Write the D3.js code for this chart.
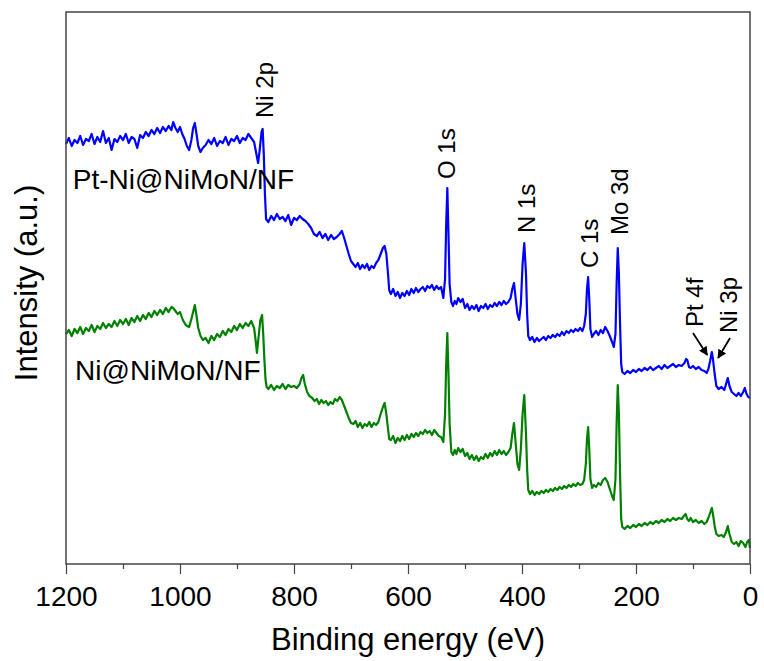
<!DOCTYPE html>
<html><head><meta charset="utf-8">
<script src="https://cdn.jsdelivr.net/npm/d3@7"></script>
<style>body{margin:0;background:#fff}svg{display:block}text{font-family:Arial,"Liberation Sans",sans-serif}</style>
</head><body><svg id="c" width="764" height="661"></svg>
<script>
// Binding energy (eV) and intensity (a.u.) for Pt-Ni@NiMoN/NF (blue)
const blueBE = [1200,1195,1190,1185,1180,1175,1170,1165,1160,1155,1150,1145,1140,1135,1130,1125,1120,1115,1110,1105,1100,1095,1090,1085,1080,1075,1070,1065,1060,1055,1050,1045,1040,1035,1030,1025,1020,1015,1012,1008,1004,1000,996,992,988,984,980,977,974,971,968,964,960,955,950,945,940,935,930,925,920,915,910,905,900,895,890,885,880,875,870,866,863,860,857,855,853,851,849,845,840,835,830,825,820,815,810,805,800,795,790,785,780,775,770,765,760,755,750,745,740,735,730,725,720,716,712,708,704,700,696,692,688,684,680,676,672,668,664,660,656,652,648,644,641,638,635,633,630,626,622,618,614,610,606,602,598,594,590,586,582,578,574,570,566,562,558,554,550,546,542,538,535,533,531,529,527,524,521,518,515,512,508,504,500,496,492,488,484,480,476,472,468,464,460,456,452,448,444,440,436,432,428,424,420,417,414,411,408,405,402,399,396,393,391,389,386,382,378,374,370,366,362,358,354,350,346,342,338,334,330,326,322,318,314,310,306,302,298,294,291,288,286,284,282,280,277,274,270,266,262,258,254,250,246,242,239,236,234,232,230,228,226,224,220,215,210,205,200,195,190,185,180,175,170,165,160,155,150,145,140,135,130,125,120,115,112,110,107,104,100,95,90,85,80,76,73,70,67,65,62,59,55,50,45,42,39,36,32,28,24,20,16,12,9,6,3,0];
const blueInt = [420,426,418,424,421,428,419,425,423,430,420,427,422,433,421,426,414,425,422,428,424,430,421,427,425,416,429,426,432,428,434,430,436,431,437,433,438,434,442,436,432,437,430,425,418,414,424,436,441,430,418,412,416,419,424,420,426,418,423,421,427,419,425,423,428,421,426,424,430,426,422,410,401,415,432,435,410,370,345,342,348,344,350,345,347,343,349,339,346,344,348,345,343,340,336,330,328,332,326,330,324,329,325,327,330,333,326,318,310,303,300,297,301,295,299,296,300,294,298,296,301,304,310,316,318,310,290,274,270,275,268,272,266,271,268,273,269,275,271,276,272,275,277,273,278,276,279,274,278,275,277,266,285,340,376,330,280,262,258,263,260,266,262,265,256,260,254,258,255,259,253,258,256,260,255,259,257,261,258,262,259,263,260,262,266,275,281,265,250,244,260,300,321,290,250,228,224,227,222,226,223,225,227,224,228,226,229,227,230,228,232,229,233,231,234,232,235,233,236,233,238,250,275,287,265,235,227,230,233,229,234,231,237,233,228,222,217,230,280,316,290,240,200,192,190,193,191,194,192,195,193,196,194,197,194,196,198,195,199,196,198,200,197,199,198,201,205,204,197,196,198,195,197,194,193,191,195,203,212,205,190,178,175,177,174,180,186,178,172,170,168,171,168,172,176,170,167,166];

// Ni@NiMoN/NF (green)
const greenBE = [1200,1195,1190,1185,1180,1175,1170,1165,1160,1155,1150,1145,1140,1135,1130,1125,1120,1115,1110,1105,1100,1095,1090,1085,1080,1075,1070,1065,1060,1055,1050,1045,1040,1035,1030,1025,1020,1015,1012,1004,1000,995,990,984,980,977,974,971,968,964,960,955,950,945,940,935,930,925,920,915,910,905,900,895,890,885,880,875,870,867,865,862,859,856,854,852,850,848,845,840,835,830,825,820,815,810,805,800,795,790,787,784,781,777,773,768,764,760,756,752,748,744,740,736,732,728,724,720,716,712,708,704,700,696,692,688,684,680,676,672,668,664,660,656,652,648,644,641,638,635,633,630,626,622,618,614,610,606,602,598,594,590,586,582,578,574,570,566,562,558,554,550,546,542,538,535,533,531,529,527,524,521,518,515,512,508,504,500,496,492,488,484,480,476,472,468,464,460,456,452,448,444,440,436,432,428,424,420,417,414,411,408,405,402,399,396,393,391,389,386,382,378,374,370,366,362,358,354,350,346,342,338,334,330,326,322,318,314,310,306,302,298,294,291,288,286,284,282,280,277,274,270,266,262,258,254,250,246,242,239,236,234,232,230,228,226,224,220,215,210,205,200,195,190,185,180,175,170,165,160,155,150,145,140,135,130,125,120,116,113,110,107,104,100,95,90,85,80,76,73,70,67,65,62,59,55,50,46,42,39,36,32,28,24,20,16,12,8,5,2,0];
const greenInt = [230,234,228,235,231,237,230,236,233,239,232,238,235,241,236,240,237,243,238,244,240,245,239,246,242,248,243,249,245,251,247,253,249,254,250,256,252,257,256,250,252,244,239,237,245,252,259,248,236,228,224,226,221,228,224,230,227,233,229,235,232,238,234,240,236,241,238,243,236,222,211,228,244,249,230,205,185,177,175,179,174,178,176,180,175,179,177,178,176,180,186,189,180,172,168,166,163,165,160,164,161,163,159,162,160,165,163,167,164,158,152,146,141,140,143,137,141,136,140,138,142,137,141,139,142,150,157,161,150,135,125,124,128,121,126,123,128,124,129,125,130,127,131,128,132,130,134,131,133,129,134,131,128,127,122,150,200,231,190,140,112,109,114,110,116,112,115,108,111,105,109,104,108,103,107,105,110,106,111,108,113,109,114,110,113,109,112,116,130,141,120,100,94,115,150,169,130,95,74,70,73,69,72,70,73,71,74,72,75,73,76,74,77,75,78,76,79,77,80,78,81,79,80,84,100,125,137,115,85,76,79,77,81,79,84,86,82,75,68,64,85,140,179,150,90,45,37,35,38,36,39,37,40,38,41,39,42,40,43,41,44,42,45,43,46,44,46,45,48,50,45,43,46,42,44,41,43,40,42,46,51,56,50,38,30,28,29,27,32,38,30,22,20,22,18,23,21,17,22,24,16];

const xTicks = [1200,1000,800,600,400,200,0];
const xMinorTicks = [1100,900,700,500,300,100];
const sampleNames = ["Pt-Ni@NiMoN/NF","Ni@NiMoN/NF"];
const sampleLabelBE = [1188,1184];
const sampleLabelInt = [375,184];
const peakNames = ["Ni 2p","O 1s","N 1s","C 1s","Mo 3d","Pt 4f","Ni 3p"];
const peakLabelBE = [837,518,377,267,214,82,23];
const peakLabelInt = [446,385,331,296,329,237,231];
const arrowFromBE = [100,35], arrowFromInt = [231,226];
const arrowToBE = [75,56], arrowToInt = [209,206];

const L=66,R=750,T=12,B=564;
const svg=d3.select("#c");
const x=d3.scaleLinear().domain([1200,0]).range([L,R]);
const y=d3.scaleLinear().domain([0,552]).range([B,T]);

svg.append("defs").append("marker").attr("id","ah").attr("viewBox","0 0 10 10")
  .attr("refX",9).attr("refY",5).attr("markerWidth",5).attr("markerHeight",5).attr("orient","auto")
  .append("path").attr("d","M0,0L10,5L0,10z").attr("fill","#000");

const line=d3.line().x(d=>x(d[0])).y(d=>y(d[1]));
const series=[[blueBE,blueInt,"#0000ff"],[greenBE,greenInt,"#008000"]];
series.forEach(s=>{
  svg.append("path").datum(s[0].map((b,i)=>[b,s[1][i]])).attr("d",line)
    .attr("fill","none").attr("stroke",s[2]).attr("stroke-width",2.2).attr("stroke-linejoin","round");
});

// frame
svg.append("rect").attr("x",L).attr("y",T).attr("width",R-L).attr("height",B-T)
  .attr("fill","none").attr("stroke","#444").attr("stroke-width",1.5);

// bottom axis
const ax=svg.append("g").attr("transform",`translate(0,${B})`)
  .call(d3.axisBottom(x).tickValues(xTicks).tickSize(10).tickFormat(d3.format("d")));
ax.select(".domain").remove();
ax.selectAll(".tick line").attr("stroke","#444").attr("stroke-width",1.2);
ax.selectAll(".tick text").attr("font-size",28).attr("fill","#000").attr("dy",0).attr("y",42)
  .style("font-family","Arial, 'Liberation Sans', sans-serif");
const axm=svg.append("g").attr("transform",`translate(0,${B})`)
  .call(d3.axisBottom(x).tickValues(xMinorTicks).tickSize(5).tickFormat(""));
axm.select(".domain").remove();
axm.selectAll(".tick line").attr("stroke","#444").attr("stroke-width",1.2);

svg.append("text").attr("x",(L+R)/2).attr("y",650).attr("text-anchor","middle")
  .attr("font-size",31).text("Binding energy (eV)");
svg.append("text").attr("transform","translate(37,283) rotate(-90)").attr("text-anchor","middle")
  .attr("font-size",31).text("Intensity (a.u.)");

sampleNames.forEach((n,i)=>{
  svg.append("text").attr("x",x(sampleLabelBE[i])).attr("y",y(sampleLabelInt[i]))
    .attr("font-size",28).text(n);
});
peakNames.forEach((n,i)=>{
  svg.append("text").attr("transform",`translate(${x(peakLabelBE[i])},${y(peakLabelInt[i])}) rotate(-90)`)
    .attr("font-size",24).text(n);
});
arrowFromBE.forEach((b,i)=>{
  svg.append("line").attr("x1",x(b)).attr("y1",y(arrowFromInt[i]))
    .attr("x2",x(arrowToBE[i])).attr("y2",y(arrowToInt[i]))
    .attr("stroke","#000").attr("stroke-width",1.8).attr("marker-end","url(#ah)");
});
</script></body></html>
